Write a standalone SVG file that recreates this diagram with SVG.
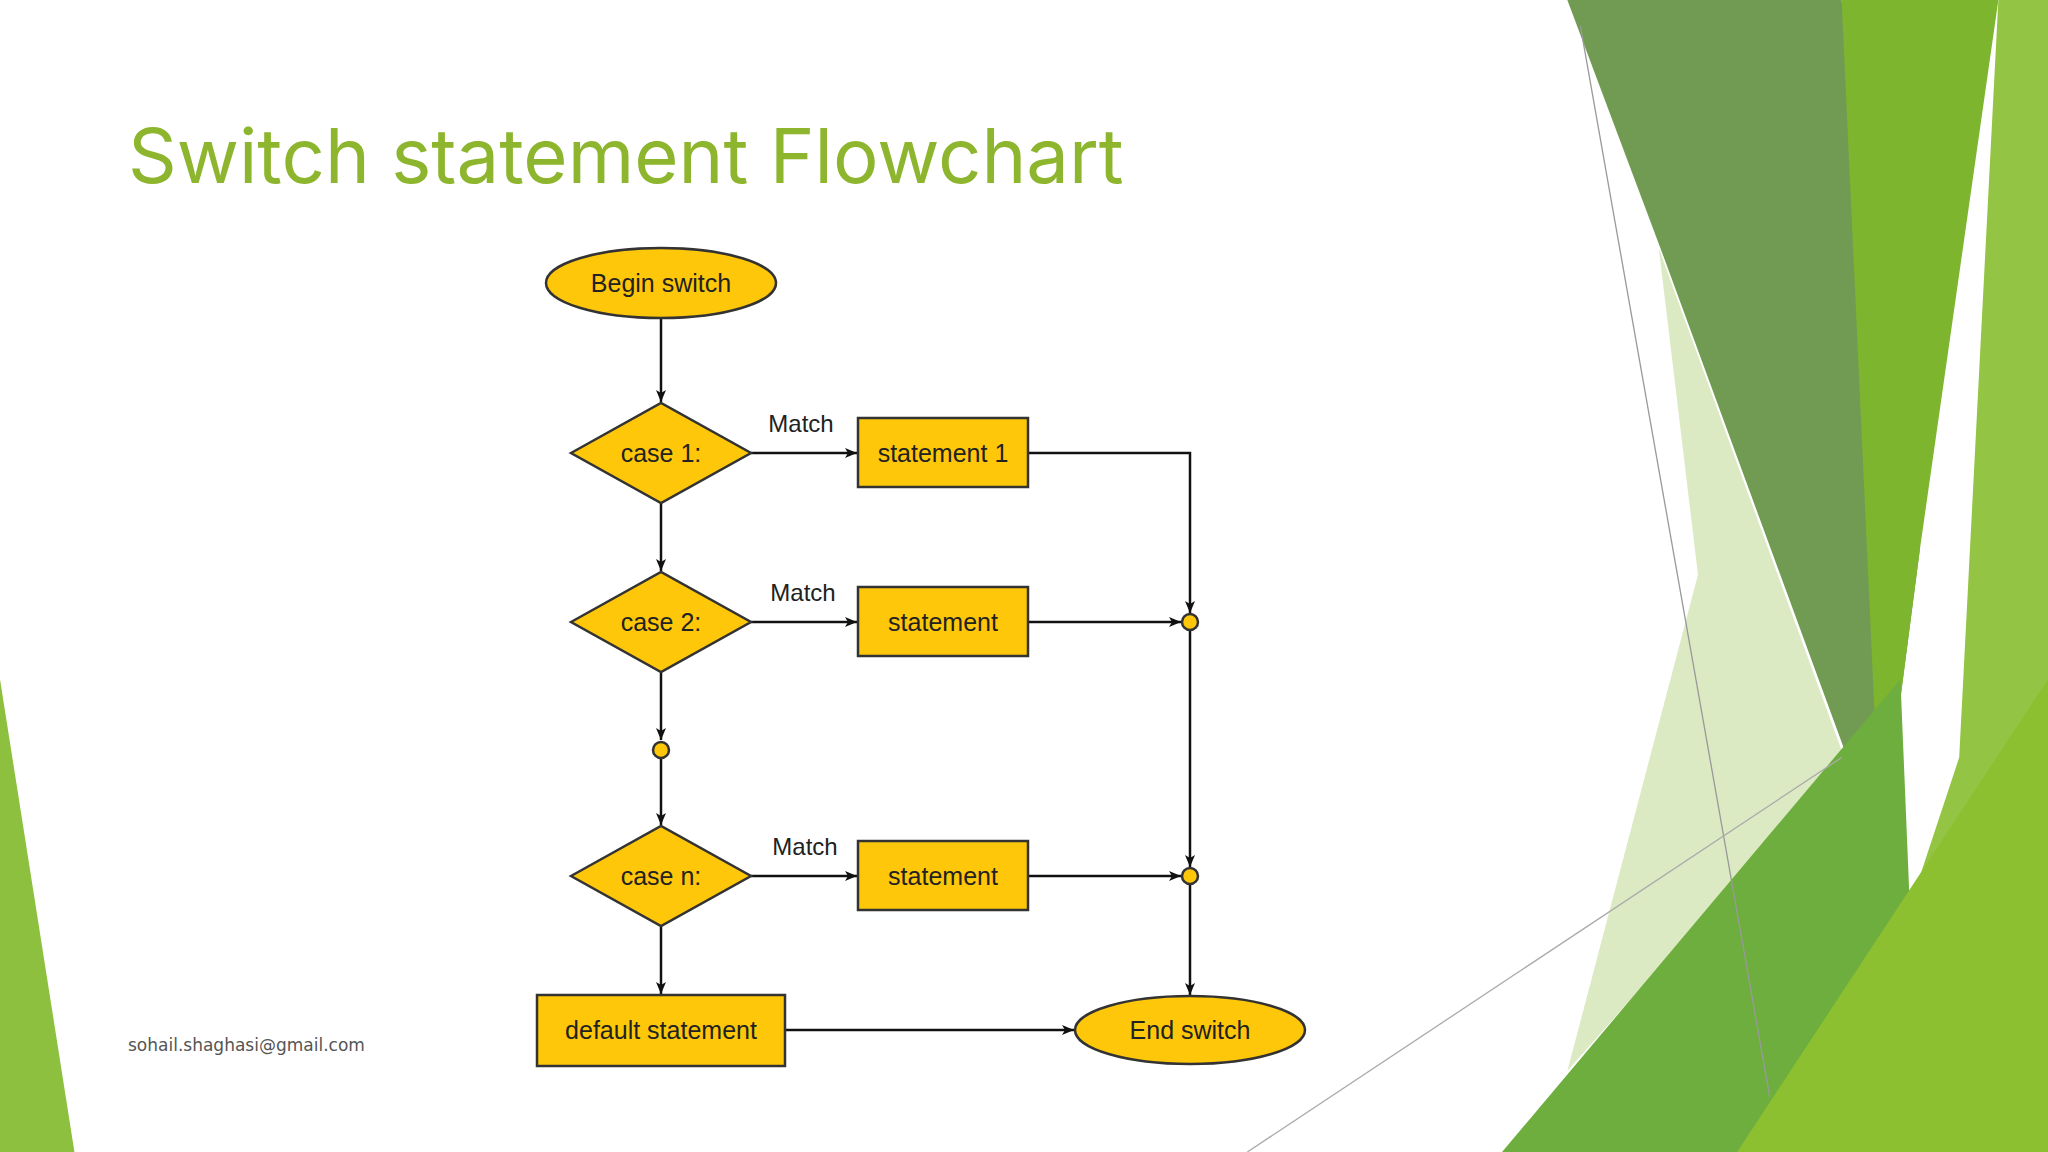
<svg xmlns="http://www.w3.org/2000/svg" width="2048" height="1152" viewBox="0 0 2048 1152">
<defs>
<marker id="ah" viewBox="0 0 12 10" refX="12" refY="5" markerWidth="12" markerHeight="10" markerUnits="userSpaceOnUse" orient="auto"><path d="M0,0 L12,5 L0,10 L3,5 z" fill="#111"/></marker>
<style>
.sh{fill:#FFC70A;stroke:#333;stroke-width:2.5}
.t{font-family:"Liberation Sans",Arial,sans-serif;font-size:25px;fill:#222;text-anchor:middle;dominant-baseline:central}
.m{font-family:"Liberation Sans",Arial,sans-serif;font-size:24px;fill:#222;text-anchor:middle}
.c{fill:none;stroke:#111;stroke-width:2.5}
</style>
</defs>
<rect width="2048" height="1152" fill="#fff"/>
<g id="background" transform="scale(1.30612)">
<polygon points="0,520 0,882 57,882" fill="#8DC03F"/>
<polygon points="1270,190 1412,580 1200,820 1300,440" fill="#DCEAC4"/>
<polygon points="1200,0 1410,0 1470,420 1440,650 1275,200" fill="#719B52"/>
<polygon points="1410,0 1530,0 1470,420 1440,650" fill="#7DB52F"/>
<polygon points="1530,0 1568,0 1568,882 1400,882 1500,580" fill="#94C443"/>
<polygon points="1150,882 1455,520 1470,882" fill="#6DAE3E"/>
<polygon points="1568,520 1568,882 1330,882" fill="#8DC031"/>
<line x1="1210" y1="20" x2="1355" y2="840" stroke="#999" stroke-width="1"/>
<line x1="955" y1="882" x2="1410" y2="580" stroke="#aaa" stroke-width="1"/>
</g>
<text id="title" x="128" y="183" font-family="Inter,'Open Sans',sans-serif" font-size="76" fill="#8DB52D">Switch statement Flowchart</text>
<text id="email" x="128" y="1051" font-family="'DejaVu Sans',sans-serif" font-size="17" fill="#555">sohail.shaghasi@gmail.com</text>
<g id="connectors">
<line class="c" x1="661" y1="318" x2="661" y2="402" marker-end="url(#ah)"/>
<line class="c" x1="661" y1="503" x2="661" y2="571" marker-end="url(#ah)"/>
<line class="c" x1="661" y1="672" x2="661" y2="740" marker-end="url(#ah)"/>
<line class="c" x1="661" y1="758" x2="661" y2="825" marker-end="url(#ah)"/>
<line class="c" x1="661" y1="926" x2="661" y2="994" marker-end="url(#ah)"/>
<line class="c" x1="751" y1="453" x2="857" y2="453" marker-end="url(#ah)"/>
<line class="c" x1="751" y1="622" x2="857" y2="622" marker-end="url(#ah)"/>
<line class="c" x1="751" y1="876" x2="857" y2="876" marker-end="url(#ah)"/>
<polyline class="c" points="1028,453 1190,453 1190,613" marker-end="url(#ah)"/>
<line class="c" x1="1028" y1="622" x2="1181" y2="622" marker-end="url(#ah)"/>
<line class="c" x1="1190" y1="631" x2="1190" y2="867" marker-end="url(#ah)"/>
<line class="c" x1="1028" y1="876" x2="1181" y2="876" marker-end="url(#ah)"/>
<line class="c" x1="1190" y1="885" x2="1190" y2="995" marker-end="url(#ah)"/>
<line class="c" x1="785" y1="1030" x2="1074" y2="1030" marker-end="url(#ah)"/>
<text class="m" x="801" y="432">Match</text>
<text class="m" x="803" y="601">Match</text>
<text class="m" x="805" y="855">Match</text>
</g>
<g id="begin"><ellipse class="sh" cx="661" cy="283" rx="115" ry="35"/><text class="t" x="661" y="283">Begin switch</text></g>
<g id="case1"><polygon class="sh" points="571,453 661,403 751,453 661,503"/><text class="t" x="661" y="453">case 1:</text></g>
<g id="stmt1"><rect class="sh" x="858" y="418" width="170" height="69"/><text class="t" x="943" y="453">statement 1</text></g>
<g id="case2"><polygon class="sh" points="571,622 661,572 751,622 661,672"/><text class="t" x="661" y="622">case 2:</text></g>
<g id="stmt2"><rect class="sh" x="858" y="587" width="170" height="69"/><text class="t" x="943" y="622">statement</text></g>
<g id="dot1"><circle class="sh" cx="661" cy="750" r="8"/></g>
<g id="casen"><polygon class="sh" points="571,876 661,826 751,876 661,926"/><text class="t" x="661" y="876">case n:</text></g>
<g id="stmtn"><rect class="sh" x="858" y="841" width="170" height="69"/><text class="t" x="943" y="876">statement</text></g>
<g id="dot2"><circle class="sh" cx="1190" cy="622" r="8"/></g>
<g id="dot3"><circle class="sh" cx="1190" cy="876" r="8"/></g>
<g id="default"><rect class="sh" x="537" y="995" width="248" height="71"/><text class="t" x="661" y="1030">default statement</text></g>
<g id="end"><ellipse class="sh" cx="1190" cy="1030" rx="115" ry="34"/><text class="t" x="1190" y="1030">End switch</text></g>
</svg>
